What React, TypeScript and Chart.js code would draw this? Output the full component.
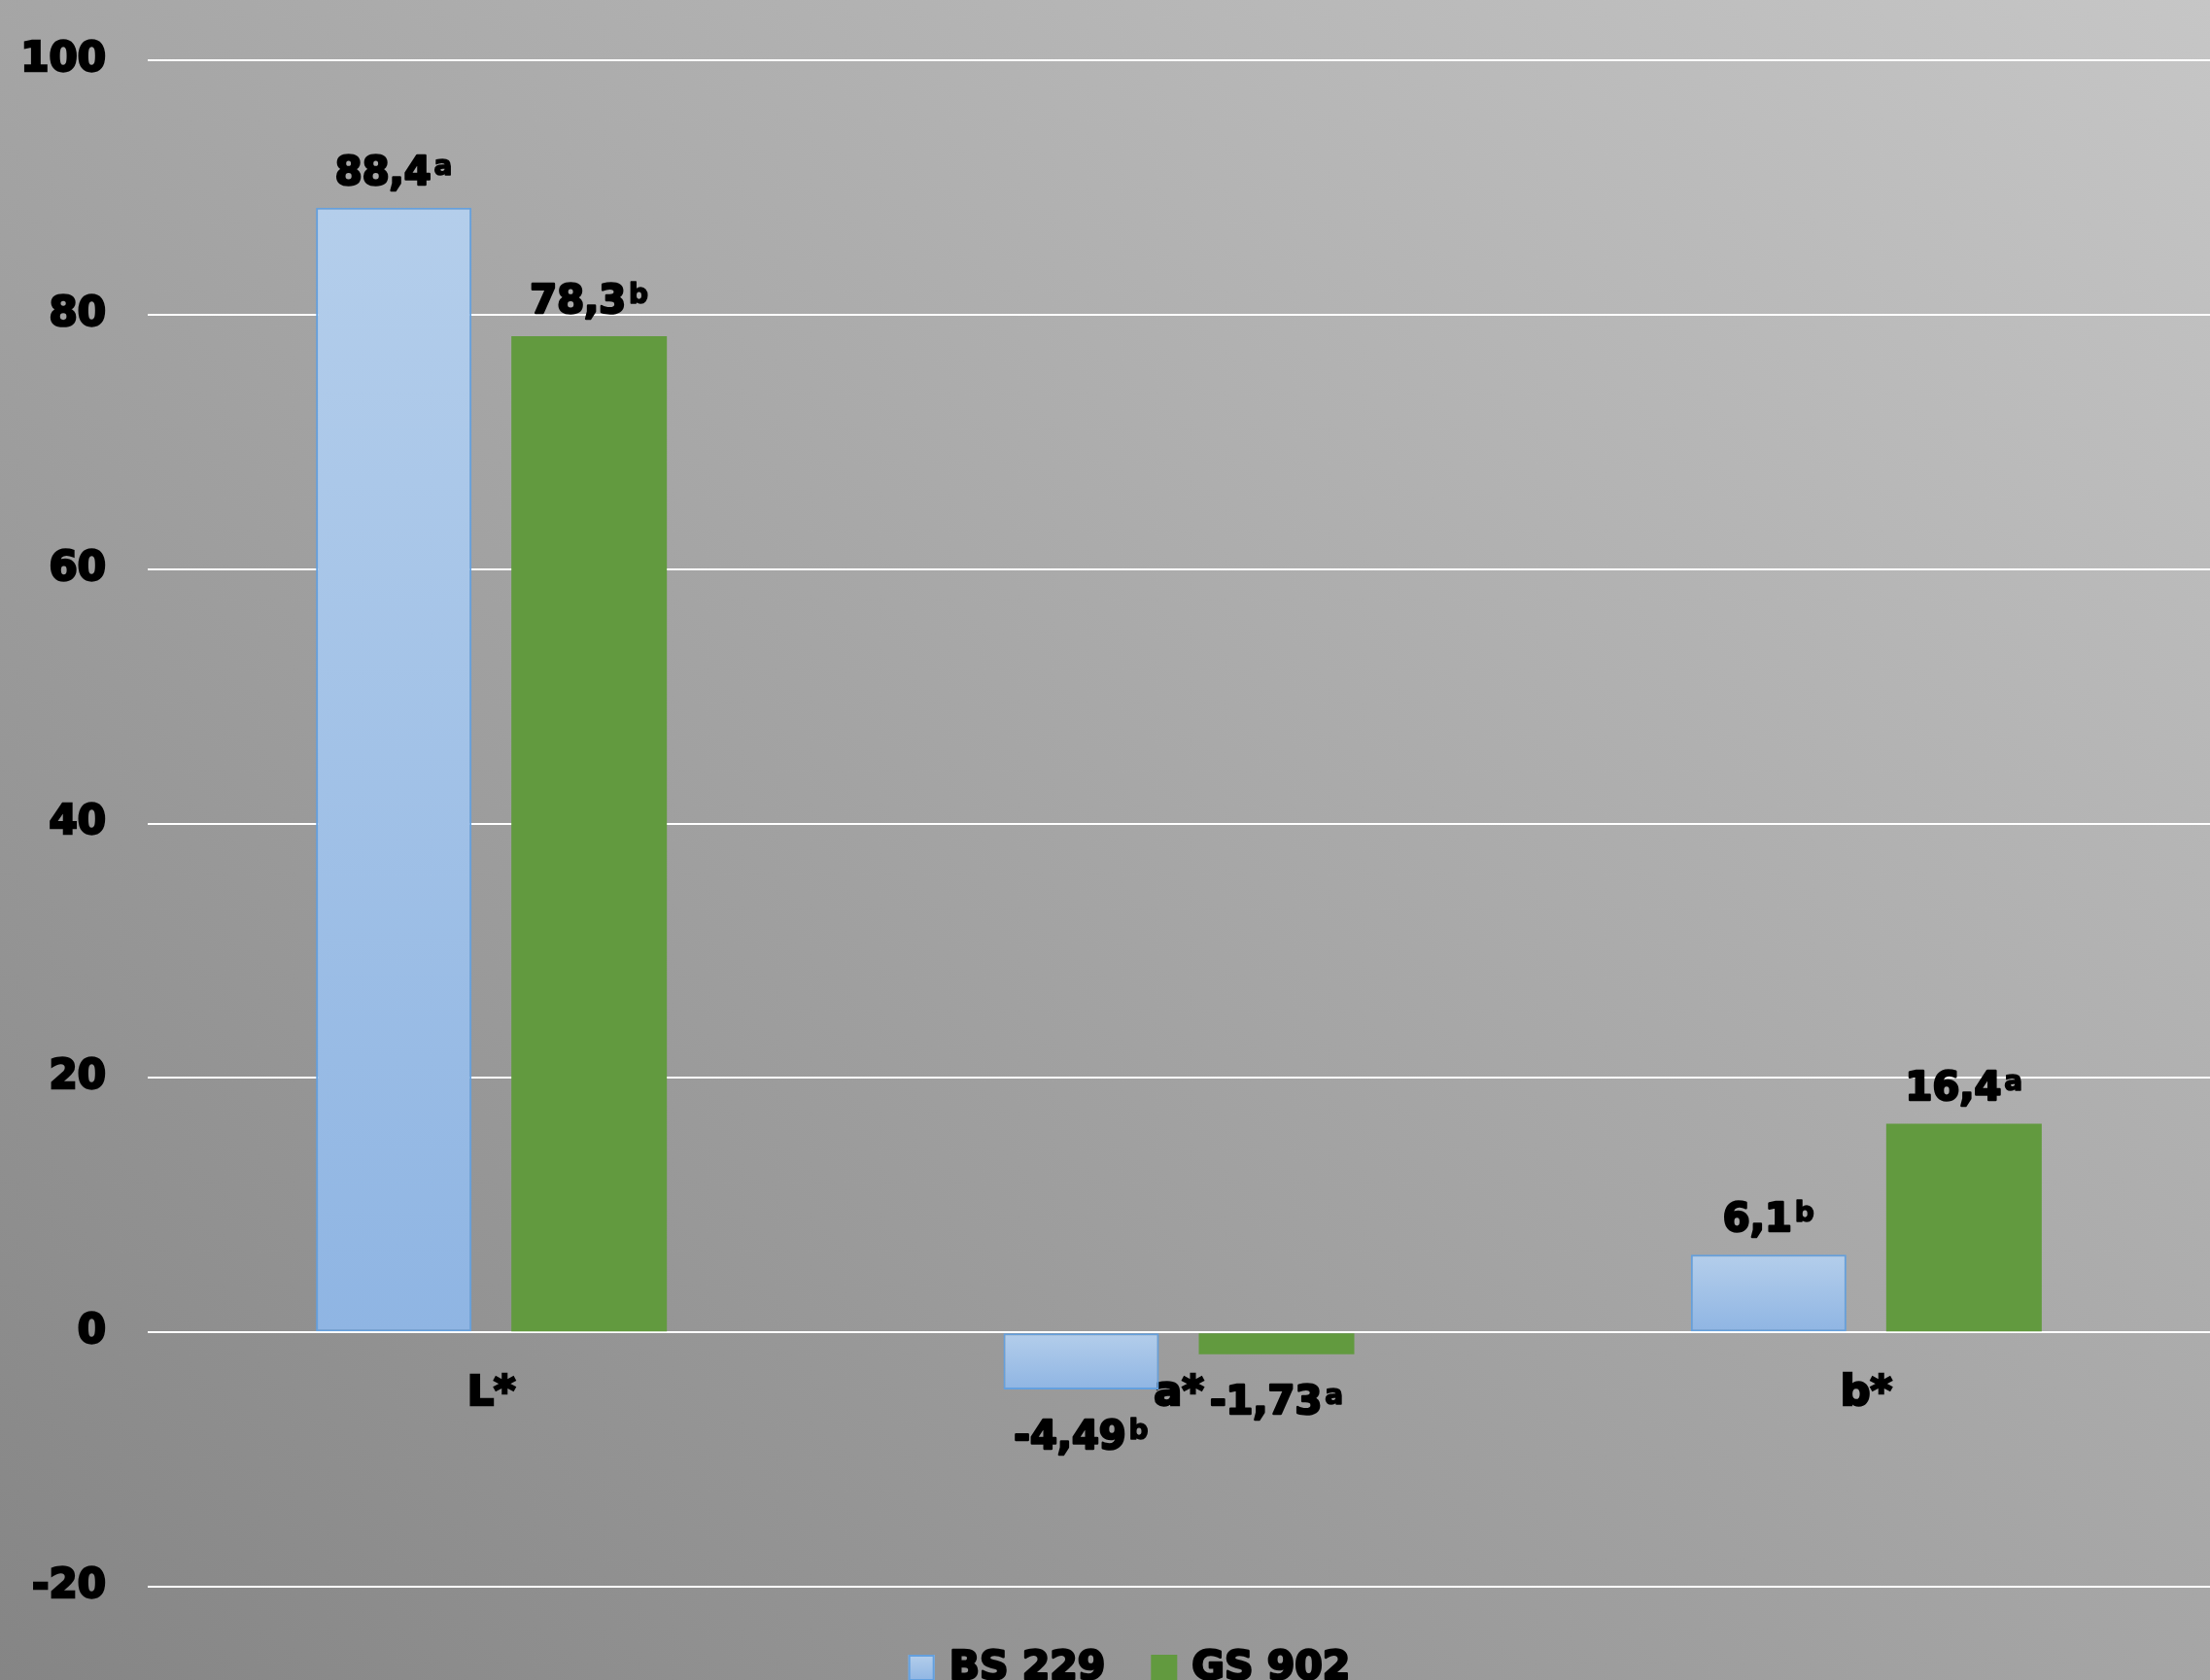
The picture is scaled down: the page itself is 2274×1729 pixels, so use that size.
import { useEffect, useRef } from "react";
import { Chart, registerables } from "chart.js";

Chart.register(...registerables);

// Colour coordinates (CIE L*a*b*) of the two samples
const categories = ["L*", "a*", "b*"];
const seriesNames = ["BS 229", "GS 902"];
const bs229Values = [88.4, -4.49, 6.1];
const gs902Values = [78.3, -1.73, 16.4];
// significance letters shown as superscripts next to the values
const bs229Letters = ["a", "b", "b"];
const gs902Letters = ["b", "a", "a"];
const yTickValues = [-20, 0, 20, 40, 60, 80, 100];

const FONT = "'DejaVu Sans', 'Liberation Sans', sans-serif";
const BLUE_TOP = "#b4ceeb";
const BLUE_BOTTOM = "#8fb5e3";
const BLUE_BORDER = "#64a0de";
const GREEN = "#629a3f";

const lettersBySeries = [bs229Letters, gs902Letters];

const formatValue = (v: number) => String(v).replace(".", ",");

const blueGradient = (ctx: CanvasRenderingContext2D, top: number, bottom: number) => {
  const g = ctx.createLinearGradient(0, top, 0, bottom);
  g.addColorStop(0, BLUE_TOP);
  g.addColorStop(1, BLUE_BOTTOM);
  return g;
};

const drawHeavyText = (ctx: CanvasRenderingContext2D, text: string, x: number, y: number, stroke: number) => {
  ctx.lineWidth = stroke;
  ctx.lineJoin = "round";
  ctx.strokeStyle = "#000";
  ctx.fillStyle = "#000";
  ctx.strokeText(text, x, y);
  ctx.fillText(text, x, y);
};

// value labels with superscript letters above (or below) each bar
const valueLabelPlugin = {
  id: "valueLabels",
  afterDatasetsDraw(chart: any) {
    const ctx: CanvasRenderingContext2D = chart.ctx;
    chart.data.datasets.forEach((ds: any, di: number) => {
      const meta = chart.getDatasetMeta(di);
      meta.data.forEach((el: any, i: number) => {
        const v = ds.data[i] as number;
        const main = formatValue(v);
        const sup = lettersBySeries[di][i];
        ctx.save();
        ctx.textBaseline = "alphabetic";
        ctx.textAlign = "left";
        ctx.font = `bold 40px ${FONT}`;
        const wMain = ctx.measureText(main).width;
        ctx.font = `bold 28px ${FONT}`;
        const wSup = ctx.measureText(sup).width;
        const total = wMain + 3 + wSup;
        const x0 = el.x - total / 2;
        const baseline = v >= 0 ? el.y - 24 : el.y + 61;
        ctx.font = `bold 40px ${FONT}`;
        drawHeavyText(ctx, main, x0, baseline, 2.5);
        ctx.font = `bold 28px ${FONT}`;
        drawHeavyText(ctx, sup, x0 + wMain + 3, baseline - 10, 1.5);
        ctx.restore();
      });
    });
  },
};

// legend centred under the plot
const bottomLegendPlugin = {
  id: "bottomLegend",
  afterDraw(chart: any) {
    const ctx: CanvasRenderingContext2D = chart.ctx;
    const box = 27;
    const gapBoxText = 15;
    const gapItems = 47;
    ctx.save();
    ctx.font = `bold 41px ${FONT}`;
    ctx.textBaseline = "alphabetic";
    ctx.textAlign = "left";
    const widths = chart.data.datasets.map((ds: any) => ctx.measureText(ds.label).width);
    const totalW =
      widths.reduce((a: number, w: number) => a + box + gapBoxText + w, 0) + gapItems * (widths.length - 1);
    let x = 1162 - totalW / 2;
    const boxTop = chart.chartArea.bottom + 70;
    const baseline = chart.chartArea.bottom + 95;
    chart.data.datasets.forEach((ds: any, di: number) => {
      if (di === 0) {
        ctx.fillStyle = blueGradient(ctx, boxTop, boxTop + box);
        ctx.fillRect(x, boxTop, box, box);
        ctx.strokeStyle = BLUE_BORDER;
        ctx.lineWidth = 2;
        ctx.strokeRect(x + 1, boxTop + 1, box - 2, box - 2);
      } else {
        ctx.fillStyle = GREEN;
        ctx.fillRect(x, boxTop, box, box);
      }
      x += box + gapBoxText;
      drawHeavyText(ctx, ds.label, x, baseline, 2.5);
      x += widths[di] + gapItems;
    });
    ctx.restore();
  },
};

export default function App() {
  const canvasRef = useRef<HTMLCanvasElement | null>(null);

  useEffect(() => {
    document.body.style.margin = "0";
    const canvas = canvasRef.current;
    if (!canvas) return;

    const chart = new Chart(canvas, {
      type: "bar",
      data: {
        labels: categories,
        datasets: [
          {
            label: seriesNames[0],
            data: bs229Values,
            backgroundColor: (c: any) => {
              const ch = c.chart;
              if (!ch.chartArea || c.type !== "data") return BLUE_TOP;
              const y = ch.scales.y;
              const v = c.raw as number;
              const top = y.getPixelForValue(Math.max(v, 0));
              const bottom = y.getPixelForValue(Math.min(v, 0));
              return blueGradient(ch.ctx, top, bottom);
            },
            borderColor: BLUE_BORDER,
            borderWidth: 2,
            borderSkipped: false,
          },
          {
            label: seriesNames[1],
            data: gs902Values,
            backgroundColor: GREEN,
            borderWidth: 0,
          },
        ],
      },
      options: {
        responsive: false,
        animation: false,
        devicePixelRatio: 1,
        categoryPercentage: 0.5684,
        barPercentage: 0.796,
        layout: { padding: { left: 0, right: 0, top: 62, bottom: 96 } },
        plugins: {
          legend: { display: false },
          tooltip: { enabled: false },
          title: { display: false },
        },
        scales: {
          x: {
            position: { y: 0 } as any,
            grid: { display: false, drawTicks: false },
            border: { display: false },
            ticks: {
              color: "#000",
              font: { family: FONT, size: 43, weight: "bold" as const },
              padding: 38,
              textStrokeColor: "#000",
              textStrokeWidth: 2.5,
            } as any,
          },
          y: {
            min: -20,
            max: 100,
            afterBuildTicks: (scale: any) => {
              scale.ticks = yTickValues.map((value) => ({ value }));
            },
            afterFit: (scale: any) => {
              scale.width = 152;
            },
            grid: { color: "#ffffff", lineWidth: 2, drawTicks: false },
            border: { display: false },
            ticks: {
              color: "#000",
              font: { family: FONT, size: 42, weight: "bold" as const, lineHeight: 0.6 },
              padding: 43,
              textStrokeColor: "#000",
              textStrokeWidth: 2.5,
            } as any,
          },
        },
      },
      plugins: [valueLabelPlugin, bottomLegendPlugin],
    });

    return () => chart.destroy();
  }, []);

  return (
    <div
      style={{
        width: 2274,
        height: 1729,
        background: "linear-gradient(to top right, #858585, #c6c6c6)",
        overflow: "hidden",
      }}
    >
      <canvas ref={canvasRef} width={2274} height={1729} style={{ display: "block" }} />
    </div>
  );
}
